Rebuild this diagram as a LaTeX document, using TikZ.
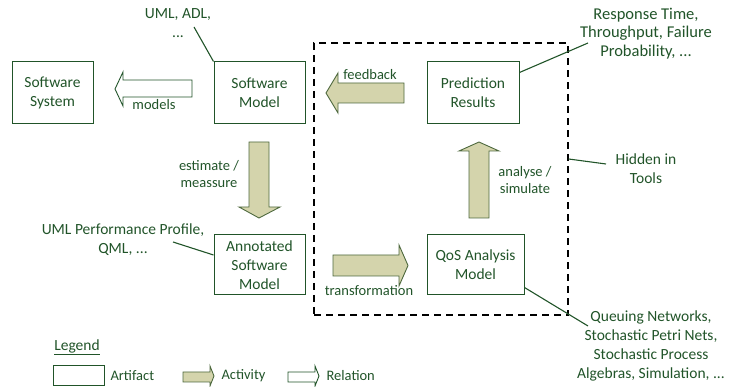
\documentclass[tikz,border=0pt]{standalone}
\usepackage{fontspec}
\setmainfont{Carlito}
\usepackage{tikz}
\usetikzlibrary{positioning, calc}
\definecolor{artgreen}{RGB}{33, 84, 41}
\definecolor{activitytan}{RGB}{212, 212, 172}
\definecolor{edgegreen}{RGB}{78, 105, 62}

\begin{document}
\begin{tikzpicture}[x=1pt, y=-1pt,
    artifact/.style={draw=artgreen, line width=1pt, text=artgreen, align=center, inner sep=2pt, font=\fontsize{15.5}{19}\selectfont},
    activity/.style={draw=edgegreen, fill=activitytan, line width=0.9pt, line join=miter},
    relation/.style={draw=artgreen, fill=white, line width=0.9pt},
    lbl/.style={text=artgreen, align=center, font=\fontsize{14.5}{17}\selectfont},
    note/.style={text=artgreen, align=center, font=\fontsize{15.5}{19}\selectfont},
    noteline/.style={draw=artgreen, line width=1.1pt}]
\useasboundingbox (0,0) rectangle (729,387);

% Hidden in tools region
\node[draw=black, dash pattern=on 7pt off 5pt, line width=1.4pt, minimum width=254pt, minimum height=272pt] (tools) at (441,179) {};

% Artifacts
\node[artifact, minimum width=81pt, minimum height=62pt] (sys) at (52.5,93) {Software\\System};
\node[artifact, minimum width=91pt, minimum height=62pt] (smodel) at (259.5,93) {Software\\Model};
\node[artifact, minimum width=92pt, minimum height=62pt] (pred) at (473,93) {Prediction\\Results};
\node[artifact, minimum width=91pt, minimum height=60pt] (annot) at (259.5,265) {Annotated\\Software\\Model};
\node[artifact, minimum width=97pt, minimum height=60pt] (qos) at (475.5,265) {QoS Analysis\\Model};

% Relation: models
\draw[relation] (192,80) -- (123,80) -- (123,72) -- (115,89) -- (123,106) -- (123,97) -- (192,97) -- cycle;
\node[lbl] (models) at (154,105) {models};

% Activities
\draw[activity] (404,83) -- (338,83) -- (338,73) -- (326,93) -- (338,113) -- (338,103) -- (404,103) -- cycle;
\node[lbl] (feedback) at (370,75) {feedback};

\draw[activity] (249,142) -- (269,142) -- (269,207) -- (280,207) -- (259,218) -- (239,207) -- (249,207) -- cycle;
\node[lbl] (estimate) at (209,174.5) {estimate /\\meassure};

\draw[activity] (469,218) -- (469,151) -- (459,151) -- (479,142) -- (499,151) -- (489,151) -- (489,218) -- cycle;
\node[lbl] (analyse) at (525,180) {analyse /\\simulate};

\draw[activity] (333,255) -- (399,255) -- (399,245) -- (408,265.5) -- (399,286) -- (399,276) -- (333,276) -- cycle;
\node[lbl] (transform) at (369,291) {transformation};

% Notes
\node[note] (umladl) at (178,23.5) {UML, ADL,\\...};
\coordinate (umladl-end) at (194,27);
\draw[noteline] (umladl-end) -- (smodel.north west);

\node[note, font=\fontsize{16.5}{18.5}\selectfont] (resp) at (646,33.5) {Response Time,\\Throughput, Failure\\Probability, ...};
\coordinate (resp-end) at (588,43);
\draw[noteline] ([yshift=-11pt]pred.north east) -- (resp-end);

\node[note] (hidden) at (646,169) {Hidden in\\Tools};
\coordinate (hidden-end) at (606,164);
\draw[noteline] ([yshift=20pt]tools.east) -- (hidden-end);

\node[note] (umlperf) at (123,240) {UML Performance Profile,\\QML, ...};
\coordinate (umlperf-end) at (173,242);
\draw[noteline] (umlperf-end) -- ([yshift=10pt]annot.west);

\node[note] (queuing) at (651,345.5) {Queuing Networks,\\Stochastic Petri Nets,\\Stochastic Process\\Algebras, Simulation, ...};
\coordinate (queuing-end) at (588,326);
\draw[noteline] ([yshift=8pt]qos.south east) -- (queuing-end);

% Legend
\node[note] (legend) at (77,347) {\underline{Legend}};
\node[draw=artgreen, line width=1pt, minimum width=51pt, minimum height=20pt] (legart) at (78.5,376) {};
\node[lbl, anchor=west] (artifactlbl) at (107,376) {Artifact};
\draw[activity] (183,372) -- (210,372) -- (210,366) -- (214,376) -- (210,386) -- (210,382) -- (183,382) -- cycle;
\node[lbl, anchor=west] (activitylbl) at (218,376) {Activity};
\draw[relation] (288,372) -- (315,372) -- (315,366) -- (319,376) -- (315,386) -- (315,382) -- (288,382) -- cycle;
\node[lbl, anchor=west] (relationlbl) at (323,376) {Relation};
\end{tikzpicture}
\end{document}
